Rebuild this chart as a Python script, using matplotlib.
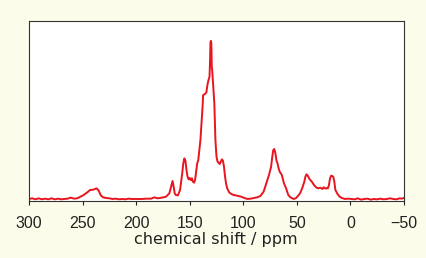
import matplotlib.pyplot as plt

# 13C NMR spectrum
ppm = [300, 297, 294, 291, 288, 285, 282, 279, 276, 273, 270, 267, 264, 261, 258, 255,
       252, 249, 246, 243, 240, 237, 235, 233, 231, 228, 225, 222, 219, 216, 213, 210,
       207, 204, 200, 195, 190, 186, 183, 180, 176, 172, 169, 167, 166, 165, 164, 163,
       161, 159, 157, 156, 155, 154, 153, 152, 151, 150, 149, 148, 147, 146, 145, 144,
       143, 142, 141, 140, 139, 138, 137.5, 136, 134.5, 133.5, 132.5, 131.5, 131, 130.6,
       130.2, 129.8, 129.4, 129, 128, 127, 126.5, 126, 125, 124, 123, 122, 121, 120,
       119, 118, 117, 116, 115, 113, 110, 106, 102, 99, 96, 93, 90, 87, 84, 81,
       78, 76, 74, 73, 72, 71, 70, 69, 68, 67, 66, 64, 62, 60, 58, 56,
       53, 51, 49, 47, 45, 43, 42, 41, 40, 38, 36, 34, 32, 30, 28, 26,
       25, 23, 22, 21, 20, 19, 18, 17, 16, 15, 14, 12, 10, 8, 5, 2,
       -1, -4, -7, -10, -13, -16, -19, -22, -25, -28, -31, -34, -37, -40, -43, -46,
       -48, -50]
intensity = [3, 5, 2, 5, 2, 4, 2, 5, 2, 4, 2, 3, 4, 7, 4, 5,
             10, 15, 22, 30, 31, 35, 28, 14, 8, 6, 5, 3, 4, 2, 3, 2,
             4, 3, 3, 3, 4, 4, 8, 5, 7, 10, 20, 45, 57, 40, 20, 15,
             14, 30, 80, 110, 125, 118, 90, 70, 62, 66, 60, 65, 55, 52, 60, 85,
             110, 120, 150, 180, 230, 280, 315, 318, 322, 345, 360, 370, 420, 475,
             478, 470, 400, 390, 340, 290, 240, 180, 130, 115, 112, 108, 115, 122,
             118, 100, 70, 48, 35, 22, 16, 13, 10, 6, 3, 4, 6, 8, 12, 25,
             55, 75, 100, 128, 150, 153, 140, 118, 110, 95, 85, 75, 50, 35, 15, 8,
             3, 5, 12, 20, 35, 55, 70, 77, 74, 62, 55, 45, 38, 35, 37, 33,
             38, 34, 36, 35, 45, 65, 73, 72, 70, 55, 30, 18, 10, 6, 3, 4,
             3, 2, 5, 1, 3, 4, 1, 3, 2, 4, 2, 3, 5, 3, 2, 5,
             4, 6]
xticks = [300, 250, 200, 150, 100, 50, 0, -50]

fig = plt.figure(figsize=(4.27, 2.58), dpi=100)
fig.patch.set_facecolor('#fcfcea')
ax = fig.add_axes([0.068, 0.221, 0.878, 0.698])
ax.set_facecolor('white')

ax.plot(ppm, intensity, color='#e8141e', lw=1.4)

ax.set_xlim(300, -50)
ax.set_ylim(-3, 538)
ax.set_xticks(xticks)
ax.set_xticklabels([str(t).replace('-', '\u2212') for t in xticks],
                   family='Liberation Sans')
ax.set_yticks([])
ax.tick_params(axis='x', direction='out', length=3, width=0.8, labelsize=11.5,
               pad=8, colors='#222222')
for s in ax.spines.values():
    s.set_linewidth(0.8)
    s.set_color('#333333')
fig.text(0.506, 1 - 244 / 258, 'chemical shift / ppm', ha='center', va='baseline',
         fontsize=11.5, color='#222222')

fig.savefig('out.png', dpi=100, facecolor=fig.get_facecolor())
